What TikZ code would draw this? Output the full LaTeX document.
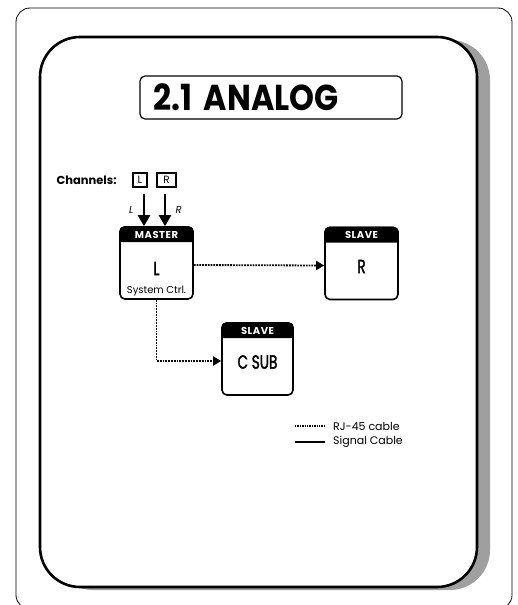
\documentclass[tikz,border=0pt]{standalone}
\usepackage{fontspec}
\setmainfont{Poppins}
\newfontfamily\titlefont[FakeStretch=0.88]{Poppins}
\newfontfamily\unitfont[FakeStretch=0.72, FakeBold=1.6]{Poppins}
\newfontfamily\headfont[LetterSpace=5]{Poppins}
\usetikzlibrary{arrows.meta, positioning}

\begin{document}
\begin{tikzpicture}[x=1pt, y=-1pt,
  unit/.style={draw, line width=1.6pt, rounded corners=5pt, minimum width=73pt, minimum height=72pt, inner sep=0pt},
  head/.style={white, font=\headfont\fontsize{10}{10}\selectfont\bfseries},
  big/.style={font=\unitfont\fontsize{19}{19}\selectfont},
  rj/.style={densely dotted, line width=1.8pt, -{Triangle[length=8pt, width=9pt]}},
  signal/.style={line width=2.4pt, -{Triangle[length=11pt, width=12pt]}},
  chan/.style={draw, line width=1.2pt, inner sep=1pt, minimum height=14pt, font=\fontsize{10.5}{10.5}\selectfont},
  legend/.style={right, inner sep=0pt, xshift=8pt, font=\fontsize{11}{11}\selectfont}
  ]

  % Page frame
  \useasboundingbox (0,0) rectangle (518,605);
  \clip (0,0) rectangle (518,605);
  \draw[line width=0.8pt, rounded corners=14pt] (16,8) rectangle (512,609);

  % Panel with shadow
  \fill[gray!75, rounded corners=40pt] (53,40) rectangle (490,590);
  \filldraw[fill=white, line width=2.6pt, rounded corners=40pt] (40,37) rectangle (477,587);

  % Title
  \node[draw, line width=1.2pt, rounded corners=5pt, minimum width=262pt, minimum height=43pt,
        text width=236pt, align=left, font=\titlefont\bfseries\fontsize{36}{36}\selectfont] (title) at (271,97.5) {2.1 ANALOG};

  % Channels
  \node[anchor=west, font=\fontsize{11.5}{11.5}\selectfont\bfseries] (channels) at (53,180) {Channels:};
  \node[chan, minimum width=14pt] (chL) at (140,180) {L};
  \node[chan, minimum width=19pt] (chR) at (166.5,180) {R};

  % Units
  \node[unit] (master) at (156.5,263) {};
  \fill ([yshift=-16pt]master.north west) [rounded corners=5pt] -- (master.north west) -- (master.north east) [sharp corners] -- ([yshift=-16pt]master.north east) -- cycle;
  \node[head] at ([yshift=-8.5pt]master.north) {MASTER};
  \node[big] at ([yshift=-5.5pt]master.center) {L};
  \node[font=\fontsize{10}{10}\selectfont] at ([yshift=9pt]master.south) {System Ctrl.};

  \node[unit] (slaveR) at (361.5,263.5) {};
  \fill ([yshift=-16pt]slaveR.north west) [rounded corners=5pt] -- (slaveR.north west) -- (slaveR.north east) [sharp corners] -- ([yshift=-16pt]slaveR.north east) -- cycle;
  \node[head] at ([yshift=-8.5pt]slaveR.north) {SLAVE};
  \node[big] at ([yshift=-3pt]slaveR.center) {R};

  \node[unit, minimum width=71pt] (slaveC) at (257.5,359) {};
  \fill ([yshift=-16pt]slaveC.north west) [rounded corners=5pt] -- (slaveC.north west) -- (slaveC.north east) [sharp corners] -- ([yshift=-16pt]slaveC.north east) -- cycle;
  \node[head] at ([yshift=-8.5pt]slaveC.north) {SLAVE};
  \node[big] at ([yshift=-3pt]slaveC.center) {C SUB};

  % Signal inputs
  \draw[signal] ([xshift=4pt,yshift=-6pt]chL.south) -- ([xshift=4pt]chL.south |- master.north) node[pos=0.5, left=6pt, font=\fontsize{10}{10}\selectfont\itshape] {L};
  \draw[signal] ([xshift=-1.5pt,yshift=-6pt]chR.south) -- ([xshift=-1.5pt]chR.south |- master.north) node[pos=0.5, right=6pt, font=\fontsize{10}{10}\selectfont\itshape] {R};

  % RJ-45 links
  \draw[rj] ([yshift=-2pt]master.east) -- ([yshift=-2pt]slaveR.west);
  \draw[rj] (master.south) |- ([yshift=-2pt]slaveC.west);

  % Legend
  \coordinate (rjA) at (295,426);
  \coordinate (rjB) at (325,426);
  \coordinate (sigA) at (295,442);
  \coordinate (sigB) at (325,442);
  \draw[densely dotted, line width=1.4pt] (rjA) -- (rjB);
  \draw[line width=1.2pt] (sigA) -- (sigB);
  \node[legend] (rjtext) at (rjB) {RJ-45 cable};
  \node[legend] (sigtext) at (sigB) {Signal Cable};

\end{tikzpicture}
\end{document}
